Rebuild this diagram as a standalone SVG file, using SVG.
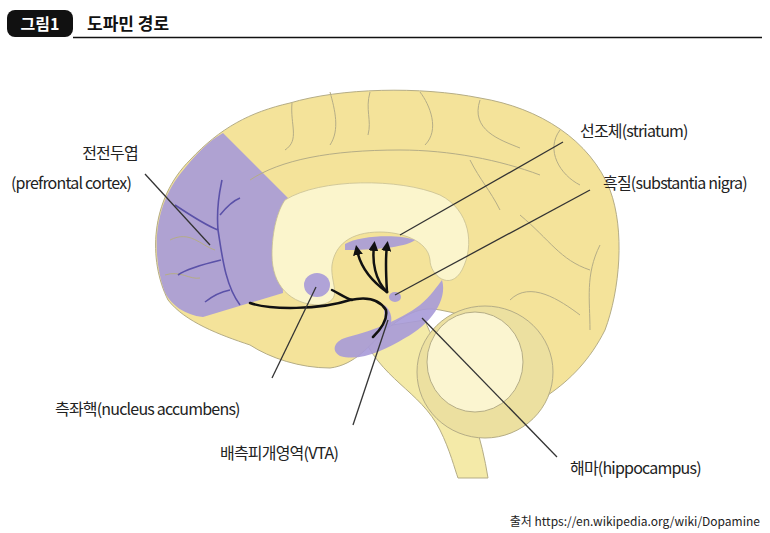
<svg xmlns="http://www.w3.org/2000/svg" width="770" height="533" viewBox="0 0 770 533">
<style>
.lbl{font-family:"Noto Sans CJK KR","Noto Sans",sans-serif;font-size:16px;fill:#222;letter-spacing:-0.8px}
.lead{stroke:#333;stroke-width:1.3;fill:none}
.gy{stroke:#b5ad86;stroke-width:1;fill:none}
.pu{fill:#a79ad8;opacity:0.9}
.bk{stroke:#111;stroke-width:2.5;fill:none;stroke-linecap:round}
</style>
<defs><marker id="ah" markerWidth="4" markerHeight="4" refX="2" refY="2" orient="auto"><path d="M0,0 L4,2 L0,4 Z" fill="#111"/></marker></defs>
<rect width="770" height="533" fill="#fff"/>
<g id="title">
<rect x="7" y="10" width="66" height="27" rx="8" fill="#111"/>
<text x="40" y="30" text-anchor="middle" font-family="Noto Sans CJK KR,sans-serif" font-size="16" font-weight="bold" fill="#fff">그림1</text>
<text x="87" y="30" font-family="Noto Sans CJK KR,sans-serif" font-size="17" font-weight="bold" fill="#111">도파민 경로</text>
<line x1="73" y1="37.5" x2="762" y2="37.5" stroke="#111" stroke-width="1.5"/>
</g>
<g id="brain">
<path d="M360 330 C380 380 420 390 440 430 C450 450 455 470 458 478 L488 478 C482 440 470 400 450 370 C440 350 430 335 425 320 Z" fill="#f4eaa8" stroke="#b5ad86"/>
<path d="M168 300 C148 260 150 200 190 160 C220 128 250 112 290 103 C340 88 420 86 480 98 C540 108 590 140 610 190 C625 230 620 290 605 330 C590 360 570 380 548 395 C530 360 500 320 440 310 C415 305 400 320 385 330 C370 345 355 365 330 368 C300 368 270 358 250 345 C220 335 185 322 168 300 Z" fill="#f4e39a" stroke="#b5ad86"/>
<ellipse cx="485" cy="372" rx="68" ry="66" fill="#ece0a0" stroke="#b5ad86"/>
<ellipse cx="475" cy="362" rx="48" ry="50" fill="#fbf5d0" stroke="#b5ad86"/>
<path d="M223 133 L290 200 C280 230 282 265 283 293 L203 317 C185 315 170 305 164 290 C152 255 152 205 185 168 C197 153 210 140 223 133 Z" class="pu"/>
<path d="M285 200 C320 178 400 178 440 195 C470 210 475 245 462 270 C450 292 430 275 430 260 C428 240 400 232 380 232 C350 232 335 245 332 265 C330 285 345 300 320 305 C290 305 272 285 272 255 C272 230 278 210 285 200 Z" fill="#fbf5cc" stroke="#c8bf92" stroke-width="0.8"/>
<path class="gy" d="M292 103 C290 125 300 140 285 150 M330 92 C335 110 340 130 330 145 M370 92 C365 110 372 120 368 135 M420 92 C430 105 440 130 425 145 M480 100 C470 130 500 140 520 148 M560 130 C545 150 560 175 580 185 M250 180 C280 160 330 150 400 150 C450 150 500 160 540 175 M470 160 C480 180 490 190 500 210 M520 215 C550 240 560 260 590 270 M600 245 C585 275 590 300 590 330 M510 300 C530 280 560 300 580 315 M170 240 C190 230 200 245 215 250 M165 275 C180 270 190 280 200 278"/>
<ellipse cx="317" cy="285" rx="13" ry="12" class="pu"/>
<path d="M345 244 C360 235 400 234 415 240 C405 248 370 250 345 250 Z" class="pu"/>
<ellipse cx="395" cy="297" rx="6" ry="5" class="pu"/>
<path d="M442 280 C448 300 430 325 405 338 C385 350 360 362 340 356 C330 350 335 340 348 337 C375 330 400 320 420 305 C430 297 438 285 442 280 Z" class="pu"/>
<path d="M384 305 C392 310 395 325 385 330 Z" class="pu"/>
<path d="M240 305 C225 285 222 255 218 230 C216 205 220 190 222 180 M218 230 C205 225 190 215 175 205 M221 260 C200 265 185 270 178 275 M230 290 C220 292 210 298 205 302 M220 215 C228 205 235 200 240 198" stroke="#5a51a8" stroke-width="1.6" fill="none"/>
</g>
<g id="connectors">
<path class="bk" d="M250 303 C270 310 320 310 350 300 C368 296 380 300 386 310 C388 320 380 330 373 337"/>
<path class="bk" d="M332 290 C340 294 345 298 352 300"/>
<path class="bk" d="M387 292 C370 280 360 265 357 250" marker-end="url(#ah)"/>
<path class="bk" d="M387 292 C375 280 372 262 374 246" marker-end="url(#ah)"/>
<path class="bk" d="M387 292 C386 275 385 260 387 246" marker-end="url(#ah)"/>
<line class="lead" x1="145" y1="174" x2="210" y2="245"/>
<line class="lead" x1="563" y1="142" x2="400" y2="235"/>
<line class="lead" x1="590" y1="190" x2="395" y2="295"/>
<line class="lead" x1="272" y1="378" x2="316" y2="287"/>
<line class="lead" x1="353" y1="425" x2="388" y2="320"/>
<line class="lead" x1="557" y1="457" x2="422" y2="318"/>
</g>
<g id="labels">
<text class="lbl" x="110" y="159" text-anchor="middle">전전두엽</text>
<text class="lbl" x="71" y="189" text-anchor="middle">(prefrontal cortex)</text>
<text class="lbl" x="580" y="137">선조체(striatum)</text>
<text class="lbl" x="603" y="189">흑질(substantia nigra)</text>
<text class="lbl" x="55" y="415">측좌핵(nucleus accumbens)</text>
<text class="lbl" x="220" y="459">배측피개영역(VTA)</text>
<text class="lbl" x="570" y="474">해마(hippocampus)</text>
<text x="760" y="526" text-anchor="end" font-family="Noto Sans CJK KR,sans-serif" font-size="12" fill="#222">출처 https://en.wikipedia.org/wiki/Dopamine</text>
</g>
</svg>
